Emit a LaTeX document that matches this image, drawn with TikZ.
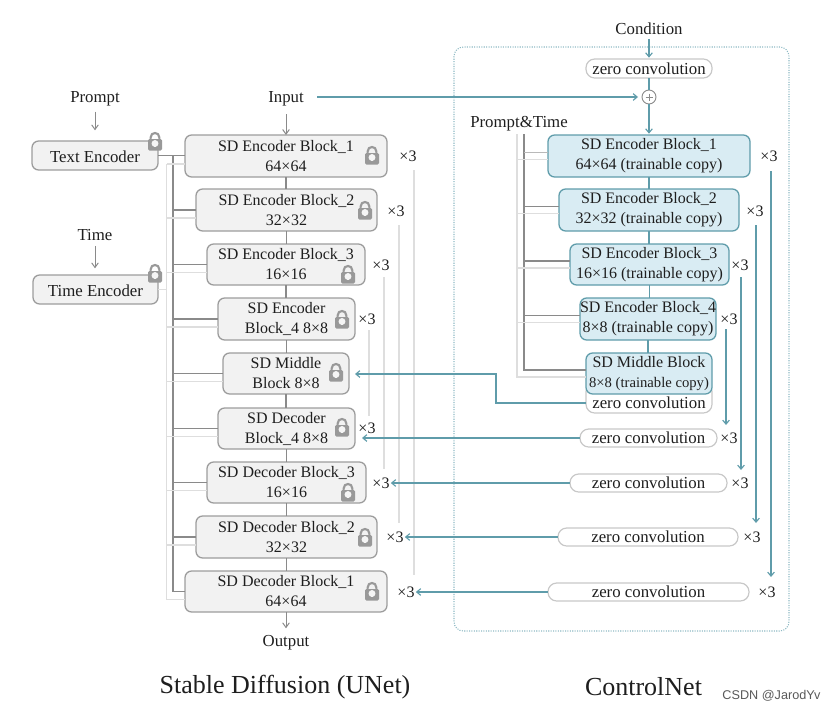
\documentclass[tikz,border=0pt]{standalone}
\usepackage{fontspec}
\setmainfont{Liberation Serif}
\newfontfamily\wmfont{Liberation Sans}
\usetikzlibrary{arrows.meta}
\definecolor{gb}{HTML}{9C9C9C}
\definecolor{gf}{HTML}{F2F2F2}
\definecolor{gd}{HTML}{8A8A8A}
\definecolor{gl}{HTML}{DEDEDE}
\definecolor{tl}{HTML}{5F9CAA}
\definecolor{tf}{HTML}{D9ECF3}
\definecolor{txt}{HTML}{1E1E1E}
\definecolor{lk}{HTML}{999999}
\newcommand{\lab}{\fontsize{12.6}{15}\selectfont}
\tikzset{
  every node/.style={inner sep=0pt,outer sep=0pt,text=txt,font=\fontsize{12}{15}\selectfont,align=center},
  shiftdown/.style={execute at begin node={\rule{0pt}{10.2pt}}},
  blockg/.style={draw=gb,fill=gf,line width=.95pt,rounded corners=5pt,shiftdown},
  blockt/.style={draw=tl,fill=tf,line width=.95pt,rounded corners=5pt,shiftdown},
  zconv/.style={draw=gl!90!black,fill=white,line width=.9pt,rounded corners=6.5pt,font=\lab},
  trunkd/.style={draw=gd,line width=.85pt},
  trunkl/.style={draw=gl,line width=.85pt},
  garrow/.style={draw=gd,line width=.75pt,-{Straight Barb[length=3.5pt,width=5pt]}},
  tarrow/.style={draw=tl,line width=.85pt,-{Straight Barb[length=3pt,width=5pt]}},
  tline/.style={draw=tl,line width=.85pt},
  sz/.style 2 args={minimum width=#1*.75pt,minimum height=#2*.75pt},
  lockpic/.pic={
    \draw[lk,line width=1.6pt] (-4.4,-2) -- (-4.4,-4.5) .. controls (-4.4,-10.5) and (4.4,-10.5) .. (4.4,-4.5) -- (4.4,-2);
    \fill[lk,rounded corners=1pt] (-7,-3) rectangle (7,8.5);
    \fill[white!90!lk] (0,1.5) circle[radius=2.6pt];
    \fill[white!90!lk] (-1,1.5) rectangle (1,5);
  }
}
\begin{document}
\begin{tikzpicture}[x=.75pt,y=-.75pt]
\useasboundingbox (0,0) rectangle (829,711);
% dotted ControlNet frame
\draw[tl!70,line width=.8pt,densely dotted,rounded corners=7pt] (454,47) rectangle (789,631);

% left column blocks
\node[blockg,sz={202}{42}] (eb1) at (286,156) {SD Encoder Block\_1\\64×64};
\node[blockg,sz={181}{42}] (eb2) at (286.5,210) {SD Encoder Block\_2\\32×32};
\node[blockg,sz={158}{41}] (eb3) at (286,264.5) {SD Encoder Block\_3\\16×16};
\node[blockg,sz={137}{42}] (eb4) at (286.5,319) {SD Encoder\\Block\_4 8×8};
\node[blockg,sz={126}{41}] (mid) at (286,373.5) {SD Middle\\Block 8×8};
\node[blockg,sz={137}{41}] (db4) at (286.5,428.5) {SD Decoder\\Block\_4 8×8};
\node[blockg,sz={159}{41}] (db3) at (286.5,482.5) {SD Decoder Block\_3\\16×16};
\node[blockg,sz={181}{42}] (db2) at (286.5,537) {SD Decoder Block\_2\\32×32};
\node[blockg,sz={202}{41}] (db1) at (286,591.5) {SD Decoder Block\_1\\64×64};
\node[blockg,sz={126}{29},font=\lab] (te) at (95,155.5) {Text Encoder};
\node[blockg,sz={125}{29},font=\lab] (ti) at (95.5,289.5) {Time Encoder};

% inputs
\node[font=\lab] (prompt) at (95,99) {Prompt};
\node[font=\lab] (time) at (95,235) {Time};
\node[font=\lab] (input) at (286,99) {Input};
\node[font=\lab] (output) at (286,643) {Output};
\node[font=\lab] (cond) at (649,29) {Condition};
\node[font=\lab] (pt) at (519,124) {Prompt\&Time};

% right column
\node[zconv,sz={126}{19}] (zc0) at (649,68.5) {zero convolution};
\node[draw=gd,fill=white,line width=.7pt,circle,minimum size=10.5pt] (plus) at (649,97) {};
\draw[gd,line width=.6pt] (plus.center) ++(-3.5,0) -- ++(7,0) (plus.center) ++(0,-3.5) -- ++(0,7);
\node[blockt,sz={202}{42}] (r1) at (649,156) {SD Encoder Block\_1\\64×64 (trainable copy)};
\node[blockt,sz={180}{42}] (r2) at (649,210) {SD Encoder Block\_2\\32×32 (trainable copy)};
\node[blockt,sz={159}{41}] (r3) at (649.5,264.5) {SD Encoder Block\_3\\16×16 (trainable copy)};
\node[blockt,sz={134}{42}] (r4) at (648,319) {SD Encoder Block\_4\\8×8 (trainable copy)};
\node[zconv,sz={126}{30}] (zm0) at (649,398) {};
\node[font=\lab] (zmt) at (649,403) {zero convolution};
\node[blockt,sz={126}{41}] (rm) at (649,373.5) {SD Middle Block\\{\fontsize{11}{15}\selectfont 8×8 (trainable copy)}};
\node[zconv,sz={137}{18}] (zc1) at (648.5,438) {zero convolution};
\node[zconv,sz={157}{18}] (zc2) at (648.5,483) {zero convolution};
\node[zconv,sz={180}{18}] (zc3) at (648,537) {zero convolution};
\node[zconv,sz={201}{18}] (zc4) at (648.5,592) {zero convolution};

% x3 labels
\node (xa) at (408,156) {×3};
\node (xb) at (396,211) {×3};
\node (xc) at (381,265) {×3};
\node (xd) at (367,319) {×3};
\node (xe) at (367,428) {×3};
\node (xf) at (381,483) {×3};
\node (xg) at (395,537) {×3};
\node (xh) at (406,592) {×3};
\node (ya) at (769,156) {×3};
\node (yb) at (755,211) {×3};
\node (yc) at (740,265) {×3};
\node (yd) at (729,319) {×3};
\node (ye) at (729,438) {×3};
\node (yf) at (740,483) {×3};
\node (yg) at (752,537) {×3};
\node (yh) at (767,592) {×3};

% titles
\node[font=\fontsize{19.5}{22}\selectfont] (t1) at (285,687) {Stable Diffusion (UNet)};
\node[font=\fontsize{19.5}{22}\selectfont] (t2) at (643.5,687) {ControlNet};
\node[font=\wmfont\fontsize{9.5}{11}\selectfont,text=black!65] (wm) at (771.5,696) {CSDN @JarodYv};

% grey verticals in the U-Net
\foreach \a/\b in {eb1/eb2,eb2/eb3,eb3/eb4,eb4/mid,mid/db4,db4/db3,db3/db2,db2/db1}
  \draw[trunkd] (\a.south) -- (\a.south |- \b.north);
\draw[garrow,shorten <=6pt] (input.south) -- (eb1.north);
\draw[garrow,shorten >=-.5pt] (db1.south) -- ([yshift=6pt]output.north);
\draw[garrow,shorten <=4pt,shorten >=8pt] (prompt.south) -- (te.north);
\draw[garrow,shorten <=4pt,shorten >=5pt] (time.south) -- (time.south |- ti.north);

% left trunks
\coordinate (ltd) at (173,156);
\coordinate (ltl) at (166.5,164);
\draw[trunkl] (ltl) |- ([yshift=-6pt]db1.west);
\draw[trunkd] (te.east) -- (te.east -| eb1.west);
\draw[trunkd] (ltd) |- (db1.west);
\foreach \b in {eb2,eb3,eb4,mid,db4,db3,db2}
  \draw[trunkd] (\b.west -| ltd) -- (\b.west);
\foreach \b in {eb1,eb2,eb3,eb4,mid,db4,db3,db2}
  \draw[trunkl] ([yshift=-6pt]\b.west -| ltl) -- ([yshift=-6pt]\b.west);
\draw[trunkl] (ti.east) -- (ti.east -| ltl);

% light return lines of the U-Net
\coordinate (la) at (414,170); \coordinate (lb) at (414,575);
\coordinate (lc) at (399,225); \coordinate (ld) at (399,523);
\coordinate (le) at (384,277); \coordinate (lf) at (384,469);
\coordinate (lg) at (369,330); \coordinate (lh) at (369,416);
\draw[trunkl] (la) -- (lb) (lc) -- (ld) (le) -- (lf) (lg) -- (lh);

% right trunks
\coordinate (rtd) at (524,134);
\coordinate (rtl) at (517,134);
\draw[trunkl] (rtl) |- ([yshift=-2.6pt]rm.west);
\draw[trunkd] (rtd) |- ([yshift=2.6pt]rm.west);
\draw[draw=gd!60,line width=.85pt] ([yshift=2.6pt]r1.west -| rtd) -- ([yshift=2.6pt]r1.west);
\foreach \b in {r2,r3,r4}
  \draw[trunkd] ([yshift=2.6pt]\b.west -| rtd) -- ([yshift=2.6pt]\b.west);
\foreach \b in {r1,r2,r3,r4}
  \draw[trunkl] ([yshift=-2.6pt]\b.west -| rtl) -- ([yshift=-2.6pt]\b.west);

% teal connectors
\draw[tarrow,shorten <=3pt,shorten >=1pt] (cond.south) -- (zc0.north);
\draw[tline] (zc0.south) -- (plus.north);
\draw[tarrow,shorten >=1pt] (plus.south) -- (r1.north);
\draw[tarrow,shorten <=4pt,shorten >=3pt] (312,97) -- (plus.west);
\foreach \a/\b in {r1/r2,r2/r3,r3/r4,r4/rm}
  \draw[tline] (\a.south) -- (\a.south |- \b.north);
\coordinate (bend) at (496,403);
\coordinate (tipm) at (355,374);
\draw[tarrow] (zmt.west -| zm0.west) -- (bend) |- (tipm);
\coordinate (tipd) at (362,438);
\draw[tarrow] (zc1.west) -- (tipd);
\draw[tarrow] (zc2.west) -- ([xshift=1pt]xf.east);
\draw[tarrow] (zc3.west) -- ([xshift=1pt]xg.east);
\draw[tarrow] (zc4.west) -- ([xshift=1pt]xh.east);
\coordinate (da) at (771,171); \coordinate (db) at (771,577);
\coordinate (dc) at (756,225); \coordinate (dd) at (756,523);
\coordinate (de) at (741,277); \coordinate (df) at (741,470);
\coordinate (dg) at (726,329); \coordinate (dh) at (726,425);
\draw[tarrow] (da) -- (db);
\draw[tarrow] (dc) -- (dd);
\draw[tarrow] (de) -- (df);
\draw[tarrow] (dg) -- (dh);

% locks
\foreach \p in {(372,156),(365,211),(348,493),(342,320),(336,373),(342,428),(348,275),(365,538),(372,592),(155,142),(155,274)}
  \pic at \p {lockpic};
\end{tikzpicture}
\end{document}
